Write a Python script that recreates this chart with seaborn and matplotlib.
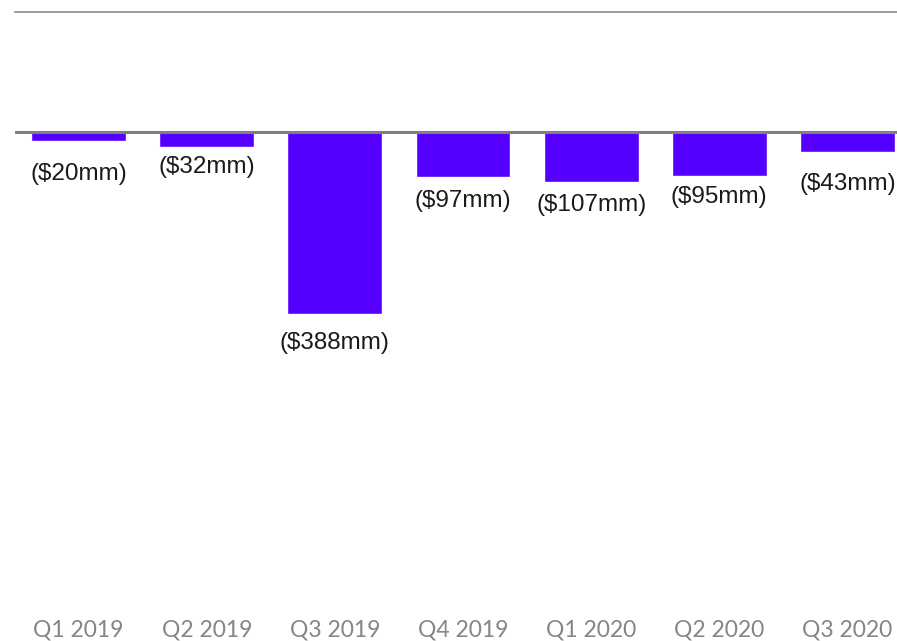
import matplotlib
matplotlib.use("Agg")
import matplotlib.pyplot as plt
import seaborn as sns
import pandas as pd

quarters = ["Q1 2019", "Q2 2019", "Q3 2019", "Q4 2019", "Q1 2020", "Q2 2020", "Q3 2020"]
values = [-20, -32, -388, -97, -107, -95, -43]
# vertical offset (pixels) of each value label below its bar end
label_offsets = [33, 20, 29, 24, 23, 21, 32]

sns.set_style("white")
plt.rcParams["font.family"] = ["Liberation Sans", "DejaVu Sans"]

df = pd.DataFrame({"quarter": quarters, "value": values})

W, H = 897, 641
fig = plt.figure(figsize=(W / 100, H / 100), dpi=100)
ax_left, ax_right = 14.5, 911.5
ax_top, ax_bottom = 12, 600.5
ax = fig.add_axes([ax_left / W, 1 - ax_bottom / H, (ax_right - ax_left) / W, (ax_bottom - ax_top) / H])

sns.barplot(data=df, x="quarter", y="value", color="#5500FF", saturation=1, width=0.74, ax=ax)

ax.set_xlim(-0.5, 6.5)
ax.set_ylim(-1000, 255)
ax.axhline(0, color="#808080", lw=2.2, zorder=3)

for s in ["left", "right", "bottom"]:
    ax.spines[s].set_visible(False)
ax.spines["top"].set_color("#8a8a8a")
ax.spines["top"].set_linewidth(1.2)

ax.set_yticks([])
ax.set_xlabel("")
ax.set_ylabel("")
ax.tick_params(axis="x", length=0, pad=14, labelsize=16.5, labelcolor="#858585")
for t in ax.get_xticklabels():
    t.set_fontfamily(["Lato", "DejaVu Sans"])

for i, (v, off) in enumerate(zip(values, label_offsets)):
    ax.annotate(f"(${abs(v)}mm)", xy=(i, v), xytext=(0, -off * 0.72),
                textcoords="offset points", ha="center", va="center",
                fontsize=17.5, color="#1a1a1a")

fig.savefig("out.png", dpi=100)
